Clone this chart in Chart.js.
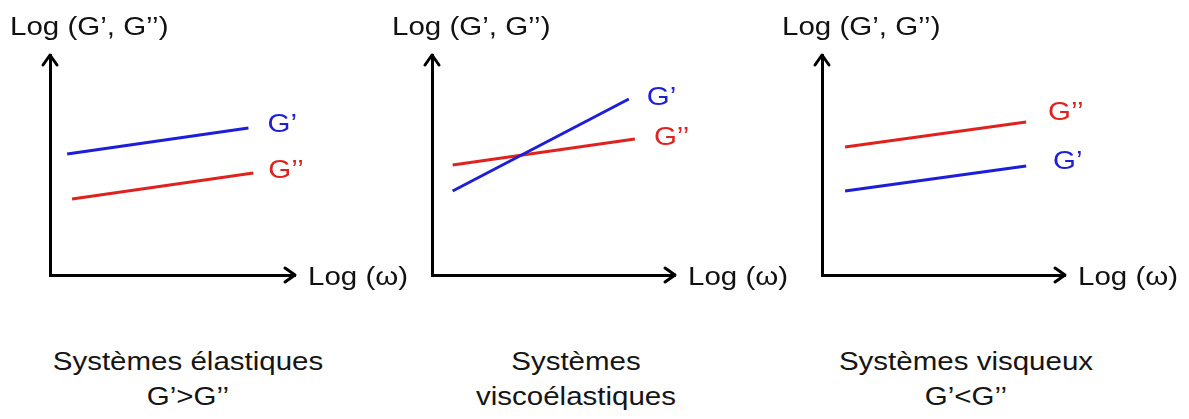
<!DOCTYPE html>
<html lang="fr">
<head>
  <meta charset="UTF-8">
  <title>Modules G' et G'' selon le type de système</title>
  <script src="https://cdn.jsdelivr.net/npm/chart.js"></script>
  <style>
    body {
      margin: 0;
      background: #fff;
      font-family: 'Liberation Sans', Arial, sans-serif;
    }
    #wrap {
      position: relative;
      width: 1189px;
      height: 419px;
      overflow: hidden;
    }
    canvas {
      position: absolute;
      top: 0;
    }
    .caption {
      position: absolute;
      width: 400px;
      text-align: center;
      font-size: 25px;
      line-height: 35px;
      color: #151515;
      transform: scaleX(1.18);
    }
  </style>
</head>
<body>
  <div id="wrap">
    <canvas id="c1" width="420" height="300" style="left:0px"></canvas>
    <canvas id="c2" width="400" height="300" style="left:390px"></canvas>
    <canvas id="c3" width="409" height="300" style="left:780px"></canvas>
    <div class="caption" style="left:-12px; top:344px">Systèmes élastiques<br>G’&gt;G’’</div>
    <div class="caption" style="left:376px; top:344px">Systèmes<br>viscoélastiques</div>
    <div class="caption" style="left:766px; top:344px">Systèmes visqueux<br>G’&lt;G’’</div>
  </div>

  <script>
    const xTitle = 'Log (ω)';
    const yTitle = 'Log (G’, G’’)';
    const seriesNames = ['G’', 'G’’'];

    // panneau 1 : systèmes élastiques (G' au-dessus de G'')
    const p1GpX = [0.7, 8.1];
    const p1GpY = [5.5, 6.68];
    const p1GppX = [0.9, 8.3];
    const p1GppY = [3.45, 4.64];

    // panneau 2 : viscoélastiques (les deux se croisent)
    const p2GpX = [0.85, 8.1];
    const p2GpY = [3.82, 8.0];
    const p2GppX = [0.85, 8.35];
    const p2GppY = [5.0, 6.18];

    // panneau 3 : visqueux (G'' au-dessus de G')
    const p3GpX = [0.95, 8.4];
    const p3GpY = [3.82, 4.95];
    const p3GppX = [0.95, 8.4];
    const p3GppY = [5.82, 6.95];

    const BLUE = '#1c1ed8';
    const RED = '#e0221e';
    const STRETCH = 1.18; // le texte de l'image est un peu étiré en largeur

    const toPoints = (xs, ys) => xs.map((x, i) => ({ x: x, y: ys[i] }));

    function stretchedText(ctx, text, x, y, color) {
      ctx.save();
      ctx.font = '25px "Liberation Sans", Arial, sans-serif';
      ctx.fillStyle = color;
      ctx.textBaseline = 'middle';
      ctx.textAlign = 'left';
      ctx.translate(x, y);
      ctx.scale(STRETCH, 1);
      ctx.fillText(text, 0, 0);
      ctx.restore();
    }

    // flèches au bout des axes + titres des axes
    const axesPlugin = {
      id: 'axesArrows',
      afterDraw(chart) {
        const { ctx, chartArea: a } = chart;
        ctx.save();
        ctx.strokeStyle = '#000';
        ctx.lineWidth = 3;
        ctx.lineCap = 'round';
        ctx.lineJoin = 'round';
        ctx.beginPath();
        ctx.moveTo(a.left - 7, a.top + 10);
        ctx.lineTo(a.left, a.top);
        ctx.lineTo(a.left + 7, a.top + 10);
        ctx.moveTo(a.right - 10, a.bottom - 7);
        ctx.lineTo(a.right, a.bottom);
        ctx.lineTo(a.right - 10, a.bottom + 7);
        ctx.stroke();
        ctx.restore();
        stretchedText(ctx, yTitle, a.left - 40, 28, '#111');
        stretchedText(ctx, xTitle, a.right + 13, a.bottom + 3, '#111');
      }
    };

    // étiquettes G' / G'' au bout de chaque droite
    const endLabels = {
      id: 'endLabels',
      afterDatasetsDraw(chart) {
        const ctx = chart.ctx;
        chart.data.datasets.forEach((ds, i) => {
          const pts = chart.getDatasetMeta(i).data;
          const last = pts[pts.length - 1];
          stretchedText(ctx, ds.label, last.x + ds.labelDx, last.y + ds.labelDy, ds.borderColor);
        });
      }
    };

    function makePanel(id, pad, datasets) {
      return new Chart(document.getElementById(id), {
        type: 'line',
        data: { datasets: datasets },
        options: {
          responsive: false,
          animation: false,
          layout: { padding: pad },
          plugins: {
            legend: { display: false },
            tooltip: { enabled: false }
          },
          elements: {
            point: { radius: 0 },
            line: { borderWidth: 3, tension: 0 }
          },
          scales: {
            x: {
              type: 'linear', min: 0, max: 10,
              grid: { display: false, drawTicks: false },
              ticks: { display: false },
              border: { display: true, color: '#000', width: 3 }
            },
            y: {
              type: 'linear', min: 0, max: 10,
              grid: { display: false, drawTicks: false },
              ticks: { display: false },
              border: { display: true, color: '#000', width: 3 }
            }
          }
        },
        plugins: [axesPlugin, endLabels]
      });
    }

    makePanel('c1', { left: 50, top: 55, right: 125, bottom: 25 }, [
      { label: seriesNames[0], data: toPoints(p1GpX, p1GpY), borderColor: BLUE, labelDx: 19, labelDy: -3 },
      { label: seriesNames[1], data: toPoints(p1GppX, p1GppY), borderColor: RED, labelDx: 15, labelDy: -2 }
    ]);

    makePanel('c2', { left: 42, top: 55, right: 115, bottom: 25 }, [
      { label: seriesNames[0], data: toPoints(p2GpX, p2GpY), borderColor: BLUE, labelDx: 18, labelDy: -1 },
      { label: seriesNames[1], data: toPoints(p2GppX, p2GppY), borderColor: RED, labelDx: 19, labelDy: -1 }
    ]);

    makePanel('c3', { left: 42, top: 55, right: 124, bottom: 25 }, [
      { label: seriesNames[1], data: toPoints(p3GppX, p3GppY), borderColor: RED, labelDx: 22, labelDy: -9 },
      { label: seriesNames[0], data: toPoints(p3GpX, p3GpY), borderColor: BLUE, labelDx: 27, labelDy: -4 }
    ]);
  </script>
</body>
</html>
